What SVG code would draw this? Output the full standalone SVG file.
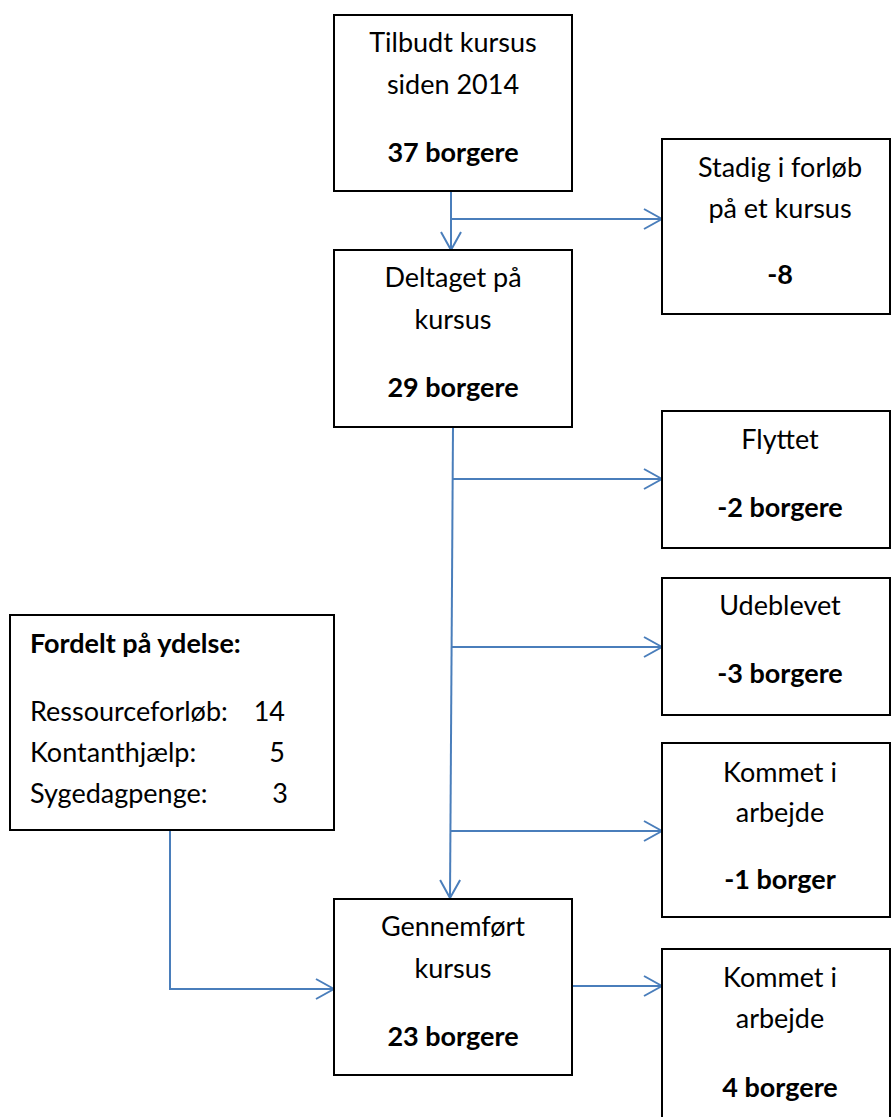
<svg xmlns="http://www.w3.org/2000/svg" width="892" height="1117" viewBox="0 0 892 1117">
  <defs>
    <marker id="arrow" viewBox="0 0 20 22" refX="19" refY="11" markerWidth="20" markerHeight="22" markerUnits="userSpaceOnUse" orient="auto">
      <path d="M1,1 L19,11 L1,21" fill="none" stroke="#4a7ebb" stroke-width="2"/>
    </marker>
    <style>
      .box { fill: #ffffff; stroke: #000000; stroke-width: 2; }
      .t { font-family: "Lato", "Liberation Sans", sans-serif; font-size: 27px; fill: #000000; text-anchor: middle; }
      .b { font-weight: bold; }
      .l { text-anchor: start; }
      .e { text-anchor: end; }
      .c { fill: none; stroke: #4a7ebb; stroke-width: 2; }
    </style>
  </defs>
  <rect x="0" y="0" width="892" height="1117" fill="#ffffff"/>

  <g id="connectors">
    <line class="c" x1="451" y1="191" x2="451" y2="250" marker-end="url(#arrow)"/>
    <line class="c" x1="451" y1="219" x2="662" y2="219" marker-end="url(#arrow)"/>
    <line class="c" x1="453" y1="427" x2="450" y2="898" marker-end="url(#arrow)"/>
    <line class="c" x1="453" y1="479" x2="662" y2="479" marker-end="url(#arrow)"/>
    <line class="c" x1="452" y1="647" x2="662" y2="647" marker-end="url(#arrow)"/>
    <line class="c" x1="451" y1="831" x2="662" y2="831" marker-end="url(#arrow)"/>
    <polyline class="c" points="170,830 170,989 334,989" marker-end="url(#arrow)"/>
    <line class="c" x1="572" y1="986" x2="662" y2="986" marker-end="url(#arrow)"/>
  </g>

  <g id="tilbudt">
    <rect class="box" x="334" y="15" width="238" height="176"/>
    <text class="t" x="453" y="52">Tilbudt kursus</text>
    <text class="t" x="453" y="94">siden 2014</text>
    <text class="t b" x="453" y="162">37 borgere</text>
  </g>

  <g id="stadig">
    <rect class="box" x="662" y="139" width="228" height="175"/>
    <text class="t" x="780" y="177">Stadig i forløb</text>
    <text class="t" x="780" y="218">på et kursus</text>
    <text class="t b" x="780" y="284">-8</text>
  </g>

  <g id="deltaget">
    <rect class="box" x="334" y="250" width="238" height="177"/>
    <text class="t" x="453" y="287">Deltaget på</text>
    <text class="t" x="453" y="329">kursus</text>
    <text class="t b" x="453" y="397">29 borgere</text>
  </g>

  <g id="flyttet">
    <rect class="box" x="662" y="411" width="228" height="137"/>
    <text class="t" x="780" y="449">Flyttet</text>
    <text class="t b" x="780" y="517">-2 borgere</text>
  </g>

  <g id="udeblevet">
    <rect class="box" x="662" y="578" width="228" height="137"/>
    <text class="t" x="780" y="615">Udeblevet</text>
    <text class="t b" x="780" y="683">-3 borgere</text>
  </g>

  <g id="kommet1">
    <rect class="box" x="662" y="743" width="228" height="174"/>
    <text class="t" x="780" y="782">Kommet i</text>
    <text class="t" x="780" y="822">arbejde</text>
    <text class="t b" x="780" y="889">-1 borger</text>
  </g>

  <g id="fordelt">
    <rect class="box" x="10" y="615" width="324" height="215"/>
    <text class="t b l" x="30" y="653">Fordelt på ydelse:</text>
    <text class="t l" x="30" y="721">Ressourceforløb:</text>
    <text class="t e" x="285" y="721">14</text>
    <text class="t l" x="30" y="762">Kontanthjælp:</text>
    <text class="t e" x="285" y="762">5</text>
    <text class="t l" x="30" y="803">Sygedagpenge:</text>
    <text class="t e" x="288" y="803">3</text>
  </g>

  <g id="gennemfoert">
    <rect class="box" x="334" y="899" width="238" height="176"/>
    <text class="t" x="453" y="936">Gennemført</text>
    <text class="t" x="453" y="978">kursus</text>
    <text class="t b" x="453" y="1046">23 borgere</text>
  </g>

  <g id="kommet2">
    <rect class="box" x="662" y="949" width="228" height="180"/>
    <text class="t" x="780" y="987">Kommet i</text>
    <text class="t" x="780" y="1028">arbejde</text>
    <text class="t b" x="780" y="1097">4 borgere</text>
  </g>
</svg>
